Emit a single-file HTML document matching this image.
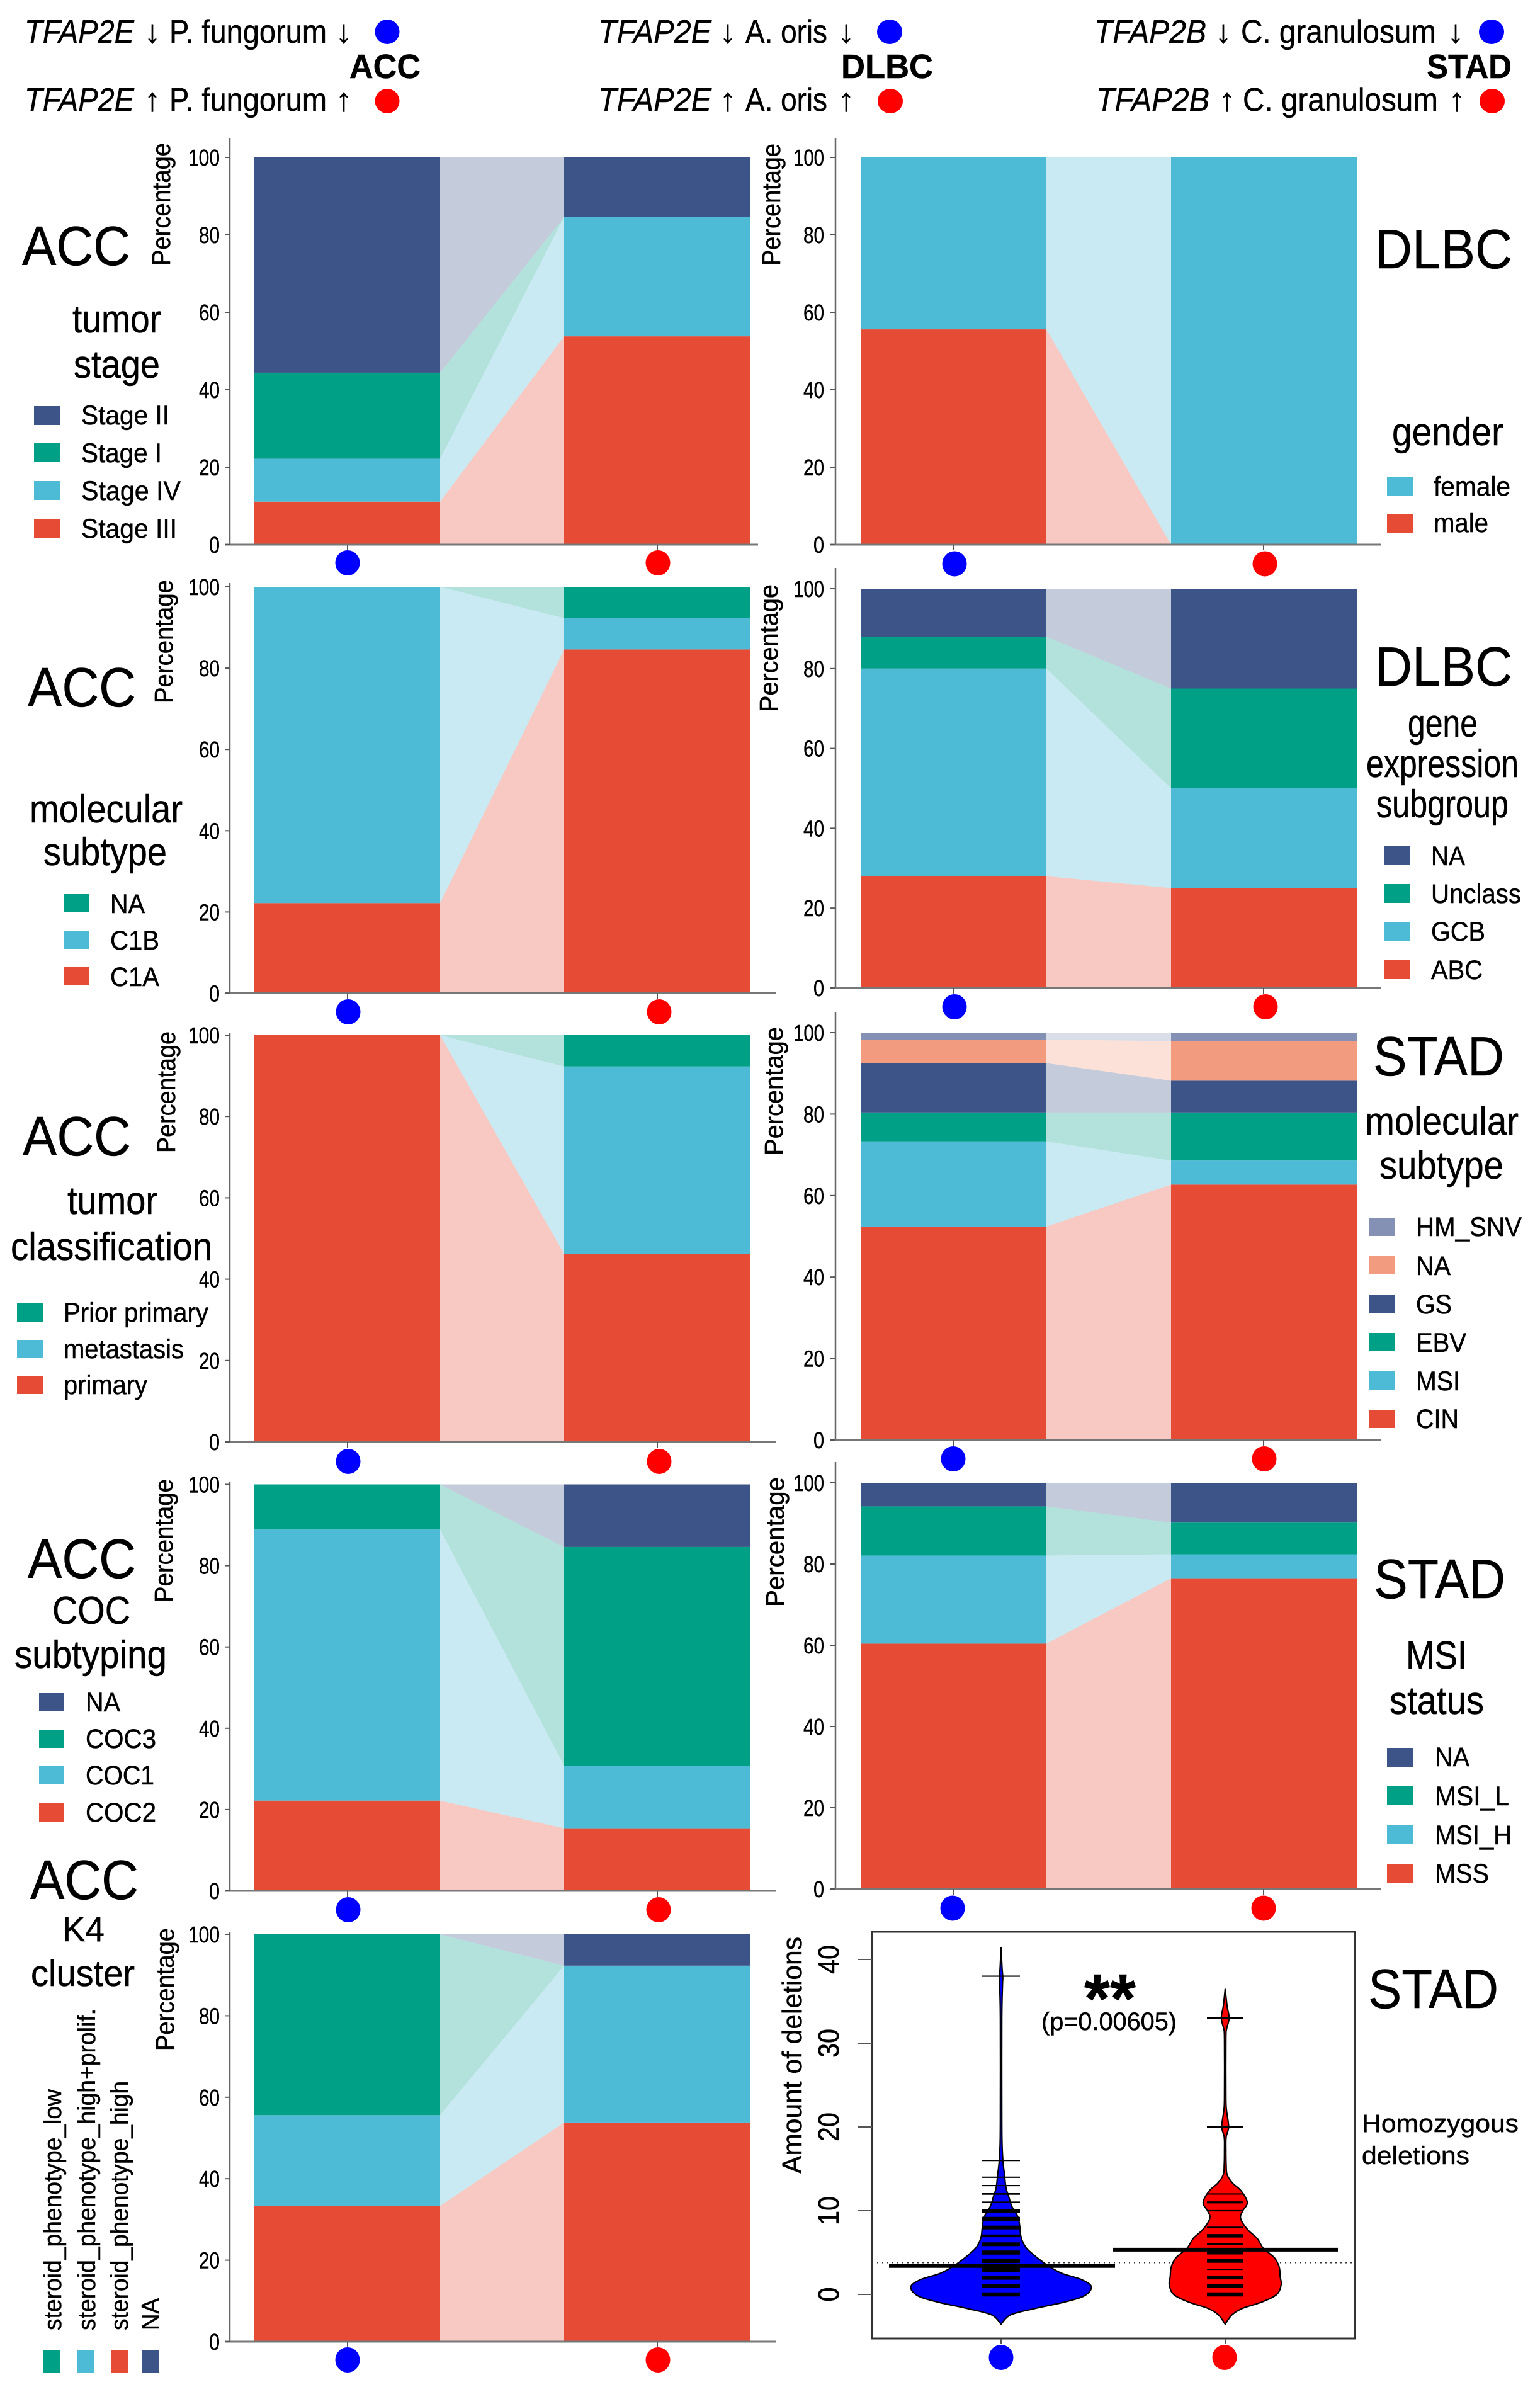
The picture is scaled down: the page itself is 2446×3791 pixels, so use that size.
<!DOCTYPE html>
<html lang="en">
<head>
<meta charset="utf-8">
<title>TFAP2 and microbe stratified clinical composition charts</title>
<style>
html,body{margin:0;padding:0;background:#fff;}
svg{display:block;font-family:"Liberation Sans",Arial,sans-serif;fill:#000;}
text{stroke:#000;stroke-width:.5px;}
</style>
</head>
<body>
<svg id="fig" xmlns="http://www.w3.org/2000/svg" width="2446" height="3791" viewBox="0 0 2446 3791">
<rect x="0" y="0" width="2446" height="3791" fill="#fff"/>

<g font-size="52">
<text x="39" y="68" font-style="italic" textLength="174" lengthAdjust="spacingAndGlyphs">TFAP2E</text>
<text x="229" y="68">↓</text>
<text x="269" y="68" textLength="250" lengthAdjust="spacingAndGlyphs">P. fungorum</text>
<text x="533" y="68">↓</text>
<ellipse cx="615" cy="50.5" rx="19.5" ry="19.5" fill="#0000ff"/>
<text x="555" y="124" font-size="54" font-weight="700" textLength="113" lengthAdjust="spacingAndGlyphs">ACC</text>
<text x="39" y="176" font-style="italic" textLength="174" lengthAdjust="spacingAndGlyphs">TFAP2E</text>
<text x="229" y="176">↑</text>
<text x="269" y="176" textLength="250" lengthAdjust="spacingAndGlyphs">P. fungorum</text>
<text x="533" y="176">↑</text>
<ellipse cx="615" cy="160.5" rx="19.5" ry="19.5" fill="#ff0000"/>
</g>

<g font-size="52">
<text x="950" y="68" font-style="italic" textLength="180" lengthAdjust="spacingAndGlyphs">TFAP2E</text>
<text x="1143" y="68">↓</text>
<text x="1184" y="68" textLength="130" lengthAdjust="spacingAndGlyphs">A. oris</text>
<text x="1331" y="68">↓</text>
<ellipse cx="1413" cy="50.5" rx="20" ry="19.5" fill="#0000ff"/>
<text x="1336" y="124" font-size="54" font-weight="700" textLength="146" lengthAdjust="spacingAndGlyphs">DLBC</text>
<text x="950" y="176" font-style="italic" textLength="180" lengthAdjust="spacingAndGlyphs">TFAP2E</text>
<text x="1143" y="176">↑</text>
<text x="1184" y="176" textLength="130" lengthAdjust="spacingAndGlyphs">A. oris</text>
<text x="1331" y="176">↑</text>
<ellipse cx="1414" cy="160.5" rx="20" ry="19.5" fill="#ff0000"/>
</g>

<g font-size="52">
<text x="1738" y="68" font-style="italic" textLength="178" lengthAdjust="spacingAndGlyphs">TFAP2B</text>
<text x="1930" y="68">↓</text>
<text x="1971" y="68" textLength="310" lengthAdjust="spacingAndGlyphs">C. granulosum</text>
<text x="2299" y="68">↓</text>
<ellipse cx="2369" cy="50.5" rx="20" ry="19.5" fill="#0000ff"/>
<text x="2266" y="124" font-size="54" font-weight="700" textLength="135" lengthAdjust="spacingAndGlyphs">STAD</text>
<text x="1741" y="176" font-style="italic" textLength="180" lengthAdjust="spacingAndGlyphs">TFAP2B</text>
<text x="1936" y="176">↑</text>
<text x="1974" y="176" textLength="310" lengthAdjust="spacingAndGlyphs">C. granulosum</text>
<text x="2301" y="176">↑</text>
<ellipse cx="2370" cy="160.5" rx="20" ry="19.5" fill="#ff0000"/>
</g>

<g font-size="43">
<text x="35" y="421" font-size="88" textLength="172" lengthAdjust="spacingAndGlyphs">ACC</text>
<text x="115" y="528" font-size="62" textLength="141" lengthAdjust="spacingAndGlyphs">tumor</text>
<text x="117" y="600" font-size="62" textLength="137" lengthAdjust="spacingAndGlyphs">stage</text>
<rect x="54" y="645" width="41" height="30" fill="#3C5488"/>
<rect x="54" y="704" width="41" height="30" fill="#00A087"/>
<rect x="54" y="764" width="41" height="30" fill="#4DBBD5"/>
<rect x="54" y="824" width="41" height="30" fill="#E64B35"/>
<text x="129" y="674" textLength="140" lengthAdjust="spacingAndGlyphs">Stage II</text>
<text x="129" y="734" textLength="128" lengthAdjust="spacingAndGlyphs">Stage I</text>
<text x="129" y="794" textLength="158" lengthAdjust="spacingAndGlyphs">Stage IV</text>
<text x="129" y="854" textLength="152" lengthAdjust="spacingAndGlyphs">Stage III</text>
</g>

<g font-size="43">
<text x="44" y="1122" font-size="88" textLength="172" lengthAdjust="spacingAndGlyphs">ACC</text>
<text x="47" y="1306" font-size="62" textLength="243" lengthAdjust="spacingAndGlyphs">molecular</text>
<text x="69" y="1374" font-size="62" textLength="196" lengthAdjust="spacingAndGlyphs">subtype</text>
<rect x="101" y="1420" width="41" height="29" fill="#00A087"/>
<rect x="101" y="1478" width="41" height="29" fill="#4DBBD5"/>
<rect x="101" y="1536" width="41" height="29" fill="#E64B35"/>
<text x="175" y="1450" textLength="55" lengthAdjust="spacingAndGlyphs">NA</text>
<text x="175" y="1508" textLength="78" lengthAdjust="spacingAndGlyphs">C1B</text>
<text x="175" y="1566" textLength="78" lengthAdjust="spacingAndGlyphs">C1A</text>
</g>

<g font-size="43">
<text x="36" y="1835" font-size="88" textLength="172" lengthAdjust="spacingAndGlyphs">ACC</text>
<text x="107" y="1928" font-size="62" textLength="143" lengthAdjust="spacingAndGlyphs">tumor</text>
<text x="17" y="2001" font-size="62" textLength="320" lengthAdjust="spacingAndGlyphs">classification</text>
<rect x="27" y="2070" width="41" height="29" fill="#00A087"/>
<rect x="27" y="2128" width="41" height="29" fill="#4DBBD5"/>
<rect x="27" y="2185" width="41" height="29" fill="#E64B35"/>
<text x="101" y="2099" textLength="230" lengthAdjust="spacingAndGlyphs">Prior primary</text>
<text x="101" y="2157" textLength="191" lengthAdjust="spacingAndGlyphs">metastasis</text>
<text x="101" y="2214" textLength="133" lengthAdjust="spacingAndGlyphs">primary</text>
</g>

<g font-size="43">
<text x="44" y="2506" font-size="88" textLength="172" lengthAdjust="spacingAndGlyphs">ACC</text>
<text x="83" y="2579" font-size="62" textLength="124" lengthAdjust="spacingAndGlyphs">COC</text>
<text x="23" y="2649" font-size="62" textLength="242" lengthAdjust="spacingAndGlyphs">subtyping</text>
<rect x="62" y="2689" width="40" height="29" fill="#3C5488"/>
<rect x="62" y="2747" width="40" height="29" fill="#00A087"/>
<rect x="62" y="2805" width="40" height="29" fill="#4DBBD5"/>
<rect x="62" y="2864" width="40" height="29" fill="#E64B35"/>
<text x="136" y="2718" textLength="55" lengthAdjust="spacingAndGlyphs">NA</text>
<text x="136" y="2776" textLength="112" lengthAdjust="spacingAndGlyphs">COC3</text>
<text x="136" y="2834" textLength="109" lengthAdjust="spacingAndGlyphs">COC1</text>
<text x="136" y="2893" textLength="112" lengthAdjust="spacingAndGlyphs">COC2</text>
</g>

<g font-size="39">
<text x="48" y="3016" font-size="88" textLength="172" lengthAdjust="spacingAndGlyphs">ACC</text>
<text x="99" y="3083" font-size="56" textLength="67" lengthAdjust="spacingAndGlyphs">K4</text>
<text x="49" y="3154" font-size="58" textLength="165" lengthAdjust="spacingAndGlyphs">cluster</text>
<text x="97" y="3701" transform="rotate(-90 97 3701)" textLength="383" lengthAdjust="spacingAndGlyphs">steroid_phenotype_low</text>
<text x="151" y="3701" transform="rotate(-90 151 3701)" textLength="511" lengthAdjust="spacingAndGlyphs">steroid_phenotype_high+prolif.</text>
<text x="203" y="3701" transform="rotate(-90 203 3701)" textLength="396" lengthAdjust="spacingAndGlyphs">steroid_phenotype_high</text>
<text x="252" y="3701" transform="rotate(-90 252 3701)" textLength="51" lengthAdjust="spacingAndGlyphs">NA</text>
<rect x="69" y="3732" width="26" height="36" fill="#00A087"/>
<rect x="123" y="3732" width="26" height="36" fill="#4DBBD5"/>
<rect x="177" y="3732" width="26" height="36" fill="#E64B35"/>
<rect x="226" y="3732" width="26" height="36" fill="#3C5488"/>
</g>

<g font-size="43">
<text x="2184" y="426" font-size="88" textLength="218" lengthAdjust="spacingAndGlyphs">DLBC</text>
<text x="2211" y="707" font-size="62" textLength="177" lengthAdjust="spacingAndGlyphs">gender</text>
<rect x="2203" y="757" width="41" height="30" fill="#4DBBD5"/>
<rect x="2203" y="816" width="41" height="30" fill="#E64B35"/>
<text x="2277" y="787" textLength="122" lengthAdjust="spacingAndGlyphs">female</text>
<text x="2277" y="845" textLength="87" lengthAdjust="spacingAndGlyphs">male</text>
</g>

<g font-size="43">
<text x="2184" y="1089" font-size="88" textLength="218" lengthAdjust="spacingAndGlyphs">DLBC</text>
<text x="2236" y="1170" font-size="62" textLength="111" lengthAdjust="spacingAndGlyphs">gene</text>
<text x="2170" y="1234" font-size="62" textLength="242" lengthAdjust="spacingAndGlyphs">expression</text>
<text x="2186" y="1298" font-size="62" textLength="210" lengthAdjust="spacingAndGlyphs">subgroup</text>
<rect x="2198" y="1344" width="41" height="30" fill="#3C5488"/>
<rect x="2198" y="1404" width="41" height="30" fill="#00A087"/>
<rect x="2198" y="1464" width="41" height="30" fill="#4DBBD5"/>
<rect x="2198" y="1525" width="41" height="30" fill="#E64B35"/>
<text x="2273" y="1374" textLength="54" lengthAdjust="spacingAndGlyphs">NA</text>
<text x="2273" y="1434" textLength="143" lengthAdjust="spacingAndGlyphs">Unclass</text>
<text x="2273" y="1494" textLength="86" lengthAdjust="spacingAndGlyphs">GCB</text>
<text x="2273" y="1555" textLength="82" lengthAdjust="spacingAndGlyphs">ABC</text>
</g>

<g font-size="43">
<text x="2181" y="1708" font-size="88" textLength="208" lengthAdjust="spacingAndGlyphs">STAD</text>
<text x="2168" y="1802" font-size="62" textLength="244" lengthAdjust="spacingAndGlyphs">molecular</text>
<text x="2191" y="1872" font-size="62" textLength="197" lengthAdjust="spacingAndGlyphs">subtype</text>
<rect x="2174" y="1934" width="41" height="29" fill="#8491B4"/>
<rect x="2174" y="1995" width="41" height="29" fill="#F39B7F"/>
<rect x="2174" y="2056" width="41" height="29" fill="#3C5488"/>
<rect x="2174" y="2117" width="41" height="29" fill="#00A087"/>
<rect x="2174" y="2178" width="41" height="29" fill="#4DBBD5"/>
<rect x="2174" y="2239" width="41" height="29" fill="#E64B35"/>
<text x="2249" y="1963" textLength="168" lengthAdjust="spacingAndGlyphs">HM_SNV</text>
<text x="2249" y="2025" textLength="55" lengthAdjust="spacingAndGlyphs">NA</text>
<text x="2249" y="2086" textLength="57" lengthAdjust="spacingAndGlyphs">GS</text>
<text x="2249" y="2147" textLength="80" lengthAdjust="spacingAndGlyphs">EBV</text>
<text x="2249" y="2208" textLength="70" lengthAdjust="spacingAndGlyphs">MSI</text>
<text x="2249" y="2268" textLength="68" lengthAdjust="spacingAndGlyphs">CIN</text>
</g>

<g font-size="43">
<text x="2182" y="2538" font-size="88" textLength="209" lengthAdjust="spacingAndGlyphs">STAD</text>
<text x="2233" y="2650" font-size="62" textLength="97" lengthAdjust="spacingAndGlyphs">MSI</text>
<text x="2207" y="2722" font-size="62" textLength="150" lengthAdjust="spacingAndGlyphs">status</text>
<rect x="2203" y="2776" width="42" height="30" fill="#3C5488"/>
<rect x="2203" y="2837" width="42" height="30" fill="#00A087"/>
<rect x="2203" y="2899" width="42" height="30" fill="#4DBBD5"/>
<rect x="2203" y="2960" width="42" height="30" fill="#E64B35"/>
<text x="2279" y="2805" textLength="55" lengthAdjust="spacingAndGlyphs">NA</text>
<text x="2279" y="2867" textLength="118" lengthAdjust="spacingAndGlyphs">MSI_L</text>
<text x="2279" y="2929" textLength="122" lengthAdjust="spacingAndGlyphs">MSI_H</text>
<text x="2279" y="2990" textLength="86" lengthAdjust="spacingAndGlyphs">MSS</text>
</g>

<g>
<text x="2173" y="3189" font-size="88" textLength="207" lengthAdjust="spacingAndGlyphs">STAD</text>
<text x="2163" y="3386" font-size="40" textLength="249" lengthAdjust="spacingAndGlyphs">Homozygous</text>
<text x="2163" y="3437" font-size="40" textLength="171" lengthAdjust="spacingAndGlyphs">deletions</text>
</g>

<g id="panels"></g>
<g id="violin"></g>
</svg>

<script>
// ---------- shared tick labels ----------
const percentTicks = [0, 20, 40, 60, 80, 100];
const deletionTicks = [0, 10, 20, 30, 40];

// ---------- composition data: segment percent, bottom to top ----------
const accStageSeries = ['Stage III', 'Stage IV', 'Stage I', 'Stage II'];
const accStageLow = [11.1, 11.1, 22.2, 55.6];
const accStageHigh = [53.8, 30.8, 0, 15.4];

const accMolSeries = ['C1A', 'C1B', 'NA'];
const accMolLow = [22.2, 77.8, 0];
const accMolHigh = [84.6, 7.7, 7.7];

const accClassSeries = ['primary', 'metastasis', 'Prior primary'];
const accClassLow = [100, 0, 0];
const accClassHigh = [46.2, 46.1, 7.7];

const accCocSeries = ['COC2', 'COC1', 'COC3', 'NA'];
const accCocLow = [22.2, 66.7, 11.1, 0];
const accCocHigh = [15.4, 15.4, 53.8, 15.4];

const accK4Series = ['steroid_phenotype_high', 'steroid_phenotype_high+prolif.', 'steroid_phenotype_low', 'NA'];
const accK4Low = [33.3, 22.3, 44.4, 0];
const accK4High = [53.8, 38.5, 0, 7.7];

const dlbcGenderSeries = ['male', 'female'];
const dlbcGenderLow = [55.6, 44.4];
const dlbcGenderHigh = [0, 100];

const dlbcGeneSeries = ['ABC', 'GCB', 'Unclass', 'NA'];
const dlbcGeneLow = [28, 52, 8, 12];
const dlbcGeneHigh = [25, 25, 25, 25];

const stadMolSeries = ['CIN', 'MSI', 'EBV', 'GS', 'NA', 'HM_SNV'];
const stadMolLow = [52.4, 20.9, 7.1, 12.1, 5.8, 1.7];
const stadMolHigh = [62.7, 5.9, 11.8, 7.8, 9.7, 2.1];

const stadMsiSeries = ['MSS', 'MSI_H', 'MSI_L', 'NA'];
const stadMsiLow = [60.4, 21.7, 12.1, 5.8];
const stadMsiHigh = [76.5, 5.9, 7.8, 9.8];

// ---------- violin data ----------
const blueLevels = [-3.55, -2.43, -1.67, -0.9, -0.15, 0.9, 1.75, 2.5, 3.26, 4, 4.8, 5.5, 6.3, 7.06, 8.2, 9.3, 10.5, 11.6, 12.75, 14.3, 15.8, 18, 22, 33, 37, 37.9, 39, 41.5];
const blueDensity = [0, 20, 70, 130, 170, 184, 165, 125, 100, 82, 65, 52, 44, 40, 38, 34, 22, 16, 10, 7, 4, 2, 1.5, 1.5, 3, 3.5, 2, 0];
const redLevels = [-3.55, -2.43, -1.67, -0.9, 0, 1.18, 2.1, 3.26, 4.4, 5.5, 6.7, 7.6, 8.6, 9.3, 10, 11, 12.4, 13.3, 14.3, 15.5, 17.3, 18.8, 20, 21.9, 23.5, 30.5, 31.7, 33, 34.4, 36.5];
const redDensity = [0, 14, 35, 75, 105, 114, 112, 110, 100, 78, 65, 48, 35, 31, 36, 45, 32, 15, 4, 2, 1.5, 2, 7, 3, 1.5, 1.5, 3, 8, 4, 0];
const blueBeanValues = [0, 1, 2, 3, 4, 5, 6, 7, 8, 9, 10, 11, 12, 13, 14, 16, 38];
const blueBeanCounts = [9, 9, 9, 13, 9, 9, 8, 5, 8, 10, 8, 2, 2, 1, 1, 1, 1];
const redBeanValues = [0, 1, 2, 3, 4, 5, 6, 7, 8, 10, 11, 12, 20, 33];
const redBeanCounts = [9, 9, 7, 1, 8, 8, 2, 7, 2, 1, 3, 1, 1, 1];
const groupMeans = [3.4, 5.35];
const overallMean = 3.8;

// ---------- palette and layout ----------
const RED = '#E64B35', CYAN = '#4DBBD5', GREEN = '#00A087', NAVY = '#3C5488', SALMON = '#F39B7F', PURPLE = '#8491B4';
const SVGNS = 'http://www.w3.org/2000/svg';
const LEFT_COL = {axis: 365, tickStart: 357, barA: [404, 699], barB: [896, 1192], centers: [552, 1044], labelRight: 349, threeLen: 50, twoLen: 33, oneLen: 17};
const RIGHT_COL = {axis: 1327, tickStart: 1319, barA: [1367, 1662], barB: [1860, 2155], centers: [1514, 2007], labelRight: 1309, threeLen: 49, twoLen: 33, oneLen: 17};

function mk(parent, tag) {
  const el = document.createElementNS(SVGNS, tag);
  parent.appendChild(el);
  return el;
}
function setAll(el, attrs) {
  Object.keys(attrs).forEach(function (k) { el.setAttribute(k, attrs[k]); });
  return el;
}

function drawPanel(p) {
  const col = p.col;
  const panels = document.getElementById('panels');
  const g = mk(panels, 'g');
  
  
  const yScale = function (v) { return p.y0 - v / 100 * (p.y0 - p.y100); };

  let cumA = 0, cumB = 0;
  p.series.forEach(function (label, i) {
    const a0 = cumA, b0 = cumB;
    cumA += p.low[i];
    cumB += p.high[i];
    const slug = String(label).toLowerCase().replace(/[^a-z0-9]+/g, '-');

    const flow = mk(g, 'polygon');
    
    
    setAll(flow, {
      points: [col.barA[1], yScale(a0)] + ' ' + [col.barB[0], yScale(b0)] + ' ' + [col.barB[0], yScale(cumB)] + ' ' + [col.barA[1], yScale(cumA)],
      fill: p.colors[i], 'fill-opacity': 0.3
    });

    const barLow = mk(g, 'rect');
    
    
    setAll(barLow, {x: col.barA[0], y: yScale(cumA), width: col.barA[1] - col.barA[0], height: Math.max(0, yScale(a0) - yScale(cumA)), fill: p.colors[i]});

    const barHigh = mk(g, 'rect');
    
    
    setAll(barHigh, {x: col.barB[0], y: yScale(cumB), width: col.barB[1] - col.barB[0], height: Math.max(0, yScale(b0) - yScale(cumB)), fill: p.colors[i]});
  });

  const spine = mk(g, 'line');
  
  
  setAll(spine, {x1: col.axis, x2: col.axis, y1: p.spineTop, y2: p.y0, stroke: '#666', 'stroke-width': 2.5});

  const base = mk(g, 'line');
  
  
  setAll(base, {x1: col.tickStart, x2: p.axisEnd, y1: p.y0, y2: p.y0, stroke: '#777', 'stroke-width': 3});

  percentTicks.forEach(function (v) {
    const tick = mk(g, 'line');
    
    
    setAll(tick, {x1: col.tickStart, x2: col.axis, y1: yScale(v), y2: yScale(v), stroke: '#555', 'stroke-width': 2});

    const s = String(v);
    const len = s.length === 3 ? col.threeLen : (s.length === 2 ? col.twoLen : col.oneLen);
    const lab = mk(g, 'text');
    
    
    setAll(lab, {x: col.labelRight - len, y: yScale(v) + 13, 'font-size': 36, textLength: len, lengthAdjust: 'spacingAndGlyphs'});
    lab.textContent = s;
  });

  col.centers.forEach(function (cx) {
    const tick = mk(g, 'line');
    
    
    setAll(tick, {x1: cx, x2: cx, y1: p.y0, y2: p.y0 + 9, stroke: '#555', 'stroke-width': 2});
  });

  const title = mk(g, 'text');
  
  
  setAll(title, {x: p.titleX + 1, y: p.titleBottom, 'font-size': 41, textLength: p.titleLen, lengthAdjust: 'spacingAndGlyphs', transform: 'rotate(-90 ' + (p.titleX + 1) + ' ' + p.titleBottom + ')'});
  title.textContent = 'Percentage';

  const lowDot = mk(g, 'ellipse');
  
  
  setAll(lowDot, {cx: p.dotX[0], cy: p.dotY, rx: 19.5, ry: 20, fill: '#0000ff'});

  const highDot = mk(g, 'ellipse');
  
  
  setAll(highDot, {cx: p.dotX[1], cy: p.dotY, rx: 19.5, ry: 20, fill: '#ff0000'});
}

drawPanel({name: 'acc-tumor-stage', col: LEFT_COL, series: accStageSeries, low: accStageLow, high: accStageHigh, colors: [RED, CYAN, GREEN, NAVY], y100: 250, y0: 865, spineTop: 219, axisEnd: 1204, titleX: 269, titleBottom: 422, titleLen: 195, dotX: [552, 1045], dotY: 894});
drawPanel({name: 'acc-molecular-subtype', col: LEFT_COL, series: accMolSeries, low: accMolLow, high: accMolHigh, colors: [RED, CYAN, GREEN], y100: 932, y0: 1577.5, spineTop: 926, axisEnd: 1232, titleX: 273, titleBottom: 1117, titleLen: 196, dotX: [553, 1047], dotY: 1607});
drawPanel({name: 'acc-tumor-classification', col: LEFT_COL, series: accClassSeries, low: accClassLow, high: accClassHigh, colors: [RED, CYAN, GREEN], y100: 1644, y0: 2290, spineTop: 1640, axisEnd: 1232, titleX: 277, titleBottom: 1831, titleLen: 193, dotX: [553, 1047], dotY: 2321});
drawPanel({name: 'acc-coc-subtyping', col: LEFT_COL, series: accCocSeries, low: accCocLow, high: accCocHigh, colors: [RED, CYAN, GREEN, NAVY], y100: 2357.5, y0: 3003, spineTop: 2354, axisEnd: 1232, titleX: 273, titleBottom: 2545, titleLen: 196, dotX: [553, 1046], dotY: 3033});
drawPanel({name: 'acc-k4-cluster', col: LEFT_COL, series: accK4Series, low: accK4Low, high: accK4High, colors: [RED, CYAN, GREEN, NAVY], y100: 3072, y0: 3719, spineTop: 3068, axisEnd: 1232, titleX: 275, titleBottom: 3257, titleLen: 195, dotX: [552, 1045], dotY: 3748});
drawPanel({name: 'dlbc-gender', col: RIGHT_COL, series: dlbcGenderSeries, low: dlbcGenderLow, high: dlbcGenderHigh, colors: [RED, CYAN], y100: 250, y0: 865, spineTop: 219, axisEnd: 2194, titleX: 1238, titleBottom: 422, titleLen: 194, dotX: [1516, 2009], dotY: 895.5});
drawPanel({name: 'dlbc-gene-expression', col: RIGHT_COL, series: dlbcGeneSeries, low: dlbcGeneLow, high: dlbcGeneHigh, colors: [RED, CYAN, GREEN, NAVY], y100: 935, y0: 1569, spineTop: 902, axisEnd: 2194, titleX: 1234, titleBottom: 1131, titleLen: 203, dotX: [1516, 2010], dotY: 1599});
drawPanel({name: 'stad-molecular-subtype', col: RIGHT_COL, series: stadMolSeries, low: stadMolLow, high: stadMolHigh, colors: [RED, CYAN, GREEN, NAVY, SALMON, PURPLE], y100: 1640, y0: 2287, spineTop: 1608, axisEnd: 2194, titleX: 1242, titleBottom: 1835, titleLen: 204, dotX: [1514, 2008], dotY: 2317});
drawPanel({name: 'stad-msi-status', col: RIGHT_COL, series: stadMsiSeries, low: stadMsiLow, high: stadMsiHigh, colors: [RED, CYAN, GREEN, NAVY], y100: 2355, y0: 3000, spineTop: 2322, axisEnd: 2194, titleX: 1244, titleBottom: 2552, titleLen: 206, dotX: [1513, 2007], dotY: 3030.5});

// ---------- violin plot ----------
function drawViolin() {
  const root = document.getElementById('violin');
  const box = {left: 1385, right: 2152, top: 3068, bottom: 3714};
  const v0 = 3644, v40 = 3112;
  const yV = function (v) { return v0 + (v40 - v0) * v / 40; };
  const widthScale = 0.78;
  const centers = [1590, 1946];

  function smooth(pts) {
    let d = 'M' + pts[0][0].toFixed(1) + ' ' + pts[0][1].toFixed(1);
    for (let i = 0; i < pts.length - 1; i++) {
      const p0 = pts[Math.max(i - 1, 0)], p1 = pts[i], p2 = pts[i + 1], p3 = pts[Math.min(i + 2, pts.length - 1)];
      const c1x = p1[0] + (p2[0] - p0[0]) / 6, c1y = p1[1] + (p2[1] - p0[1]) / 6;
      const c2x = p2[0] - (p3[0] - p1[0]) / 6, c2y = p2[1] - (p3[1] - p1[1]) / 6;
      d += 'C' + c1x.toFixed(1) + ' ' + c1y.toFixed(1) + ' ' + c2x.toFixed(1) + ' ' + c2y.toFixed(1) + ' ' + p2[0].toFixed(1) + ' ' + p2[1].toFixed(1);
    }
    return d;
  }
  function violinPath(cx, levels, density) {
    const right = levels.map(function (v, i) { return [cx + density[i] * widthScale, yV(v)]; });
    const left = levels.map(function (v, i) { return [cx - density[i] * widthScale, yV(v)]; }).reverse();
    return smooth(right) + smooth(left).replace(/^M[^C]*/, '') + 'Z';
  }

  const frame = mk(root, 'rect');
  
  
  setAll(frame, {x: box.left, y: box.top, width: box.right - box.left, height: box.bottom - box.top, fill: '#fff', stroke: '#333', 'stroke-width': 3});

  const dotted = mk(root, 'line');
  
  
  setAll(dotted, {x1: box.left, x2: box.right, y1: yV(overallMean), y2: yV(overallMean), stroke: '#333', 'stroke-width': 2, 'stroke-dasharray': '2 6'});

  const vBlue = mk(root, 'path');
  
  
  setAll(vBlue, {d: violinPath(centers[0], blueLevels, blueDensity), fill: '#0000ff', stroke: '#000', 'stroke-width': 2.2});

  const vRed = mk(root, 'path');
  
  
  setAll(vRed, {d: violinPath(centers[1], redLevels, redDensity), fill: '#ff0000', stroke: '#000', 'stroke-width': 2.2});

  blueBeanValues.forEach(function (v, i) {
    const bean = mk(root, 'line');
    
    
    setAll(bean, {x1: centers[0] - 30, x2: centers[0] + 30, y1: yV(v), y2: yV(v), stroke: '#000', 'stroke-width': 1.6 + 0.55 * blueBeanCounts[i]});
  });
  redBeanValues.forEach(function (v, i) {
    const bean = mk(root, 'line');
    
    
    setAll(bean, {x1: centers[1] - 29, x2: centers[1] + 29, y1: yV(v), y2: yV(v), stroke: '#000', 'stroke-width': 1.6 + 0.55 * redBeanCounts[i]});
  });

  const meanBlue = mk(root, 'line');
  
  
  setAll(meanBlue, {x1: centers[0] - 178, x2: centers[0] + 181, y1: yV(groupMeans[0]), y2: yV(groupMeans[0]), stroke: '#000', 'stroke-width': 6});

  const meanRed = mk(root, 'line');
  
  
  setAll(meanRed, {x1: centers[1] - 179, x2: centers[1] + 179, y1: yV(groupMeans[1]), y2: yV(groupMeans[1]), stroke: '#000', 'stroke-width': 6});

  deletionTicks.forEach(function (v) {
    const tick = mk(root, 'line');
    
    
    setAll(tick, {x1: 1363, x2: box.left, y1: yV(v), y2: yV(v), stroke: '#555', 'stroke-width': 2});

    const s = String(v);
    const lab = mk(root, 'text');
    
    
    setAll(lab, {x: 1332, y: yV(v), 'font-size': 46, 'text-anchor': 'middle', textLength: s.length === 2 ? 46 : 23, lengthAdjust: 'spacingAndGlyphs', transform: 'rotate(-90 1332 ' + yV(v) + ')'});
    lab.textContent = s;
  });

  centers.forEach(function (cx) {
    const tick = mk(root, 'line');
    
    
    setAll(tick, {x1: cx, x2: cx, y1: box.bottom, y2: box.bottom + 9, stroke: '#555', 'stroke-width': 2});
  });

  const title = mk(root, 'text');
  
  
  setAll(title, {x: 1273, y: 3452, 'font-size': 44, textLength: 376, lengthAdjust: 'spacingAndGlyphs', transform: 'rotate(-90 1273 3452)'});
  title.textContent = 'Amount of deletions';

  const stars = mk(root, 'text');
  
  
  setAll(stars, {x: 1722, y: 3212, 'font-size': 110, 'font-weight': 700, textLength: 82, lengthAdjust: 'spacingAndGlyphs'});
  stars.textContent = '**';

  const pval = mk(root, 'text');
  
  
  setAll(pval, {x: 1654, y: 3224, 'font-size': 40, textLength: 215, lengthAdjust: 'spacingAndGlyphs'});
  pval.textContent = '(p=0.00605)';

  const lowDot = mk(root, 'ellipse');
  
  
  setAll(lowDot, {cx: 1590, cy: 3744, rx: 19.5, ry: 20, fill: '#0000ff'});

  const highDot = mk(root, 'ellipse');
  
  
  setAll(highDot, {cx: 1945, cy: 3744, rx: 19.5, ry: 20, fill: '#ff0000'});
}
drawViolin();
</script>
</body>
</html>
